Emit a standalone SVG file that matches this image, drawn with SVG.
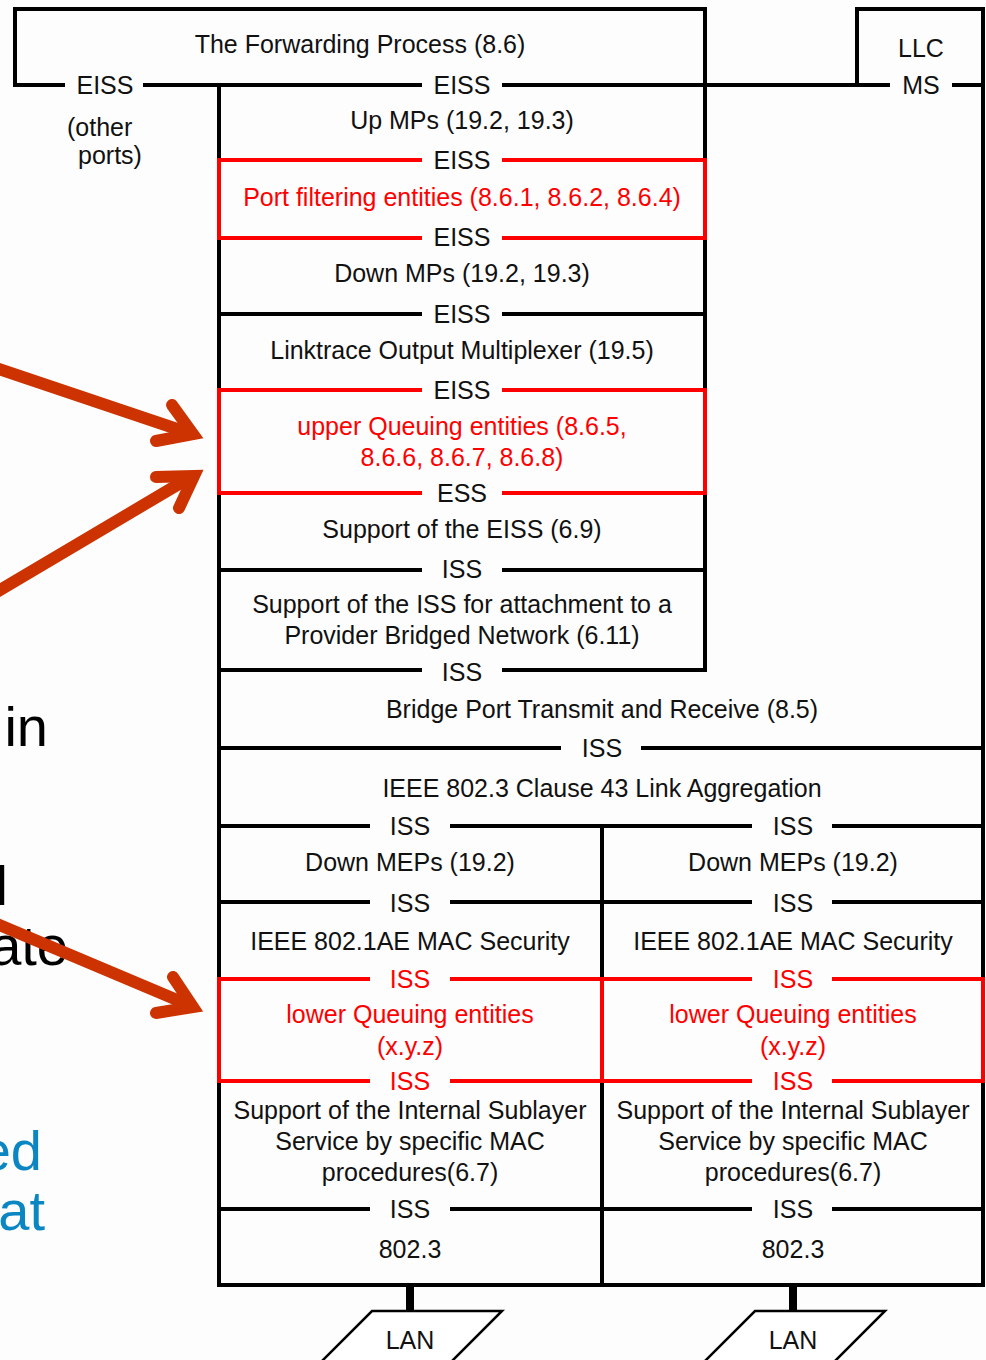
<svg xmlns="http://www.w3.org/2000/svg" width="986" height="1360" viewBox="0 0 986 1360">
<style>
.t{font-family:"Liberation Sans",Arial,sans-serif;font-size:25px;fill:#111;text-anchor:middle}
.s{text-anchor:start}
.r{fill:#ff0000}
.big{font-family:"Liberation Sans",Arial,sans-serif;font-size:56px;fill:#000;text-anchor:end}
.blue{fill:#0a86c2}
.k{fill:none;stroke:#000;stroke-width:4}
.rl{fill:none;stroke:#ff0000;stroke-width:4}
.arr{fill:none;stroke:#cc3300;stroke-width:12;stroke-linecap:round;stroke-linejoin:miter;stroke-miterlimit:6}
.lan{fill:#fff;stroke:#000;stroke-width:2.5}
</style>
<rect width="986" height="1360" fill="#fdfdfd"/>

<g id="side-text">
<text class="big" x="48" y="746">in</text>
<text class="big" x="8" y="905">l</text>
<text class="big" x="68" y="965">ate</text>
<text class="big blue" x="42" y="1170">ed</text>
<text class="big blue" x="45" y="1230">at</text>
</g>

<g id="frame">
<path class="k" d="M15,85 V9 H705 V672 M219,83 V1287 M857,85 V9 H983 V1287"/>
<path class="k" d="M13,85 H65 M143,85 H422 M502,85 H890 M952,85 H985"/>
<path class="k" d="M219,314 H422 M502,314 H705 M219,570 H422 M502,570 H705 M219,670 H422 M502,670 H707"/>
<path class="k" d="M219,748 H561 M641,748 H985"/>
<path class="k" d="M219,826 H370 M450,826 H752 M832,826 H985 M219,902 H370 M450,902 H752 M832,902 H985 M219,1209 H370 M450,1209 H752 M832,1209 H985"/>
<path class="k" d="M217,1285 H985 M602,826 V1285"/>
</g>

<g id="red-boxes">
<path class="rl" d="M219,160 H422 M502,160 H705 M219,238 H422 M502,238 H705 M219,158 V240 M705,158 V240"/>
<path class="rl" d="M219,390 H422 M502,390 H705 M219,493 H422 M502,493 H705 M219,388 V495 M705,388 V495"/>
<path class="rl" d="M219,979 H370 M450,979 H752 M832,979 H985 M219,1081 H370 M450,1081 H752 M832,1081 H985 M219,977 V1083 M602,977 V1083 M983,977 V1083"/>
</g>

<g id="forwarding">
<text class="t" x="360" y="53">The Forwarding Process (8.6)</text>
<text class="t" x="105" y="94">EISS</text>
<text class="t s" x="67" y="136">(other</text>
<text class="t s" x="78" y="164">ports)</text>
</g>
<g id="llc">
<text class="t" x="921" y="57">LLC</text>
<text class="t" x="921" y="94">MS</text>
</g>
<g id="up-mps">
<text class="t" x="462" y="94">EISS</text>
<text class="t" x="462" y="129">Up MPs (19.2, 19.3)</text>
<text class="t" x="462" y="169">EISS</text>
</g>
<g id="port-filtering">
<text class="t r" x="462" y="206">Port filtering entities (8.6.1, 8.6.2, 8.6.4)</text>
<text class="t" x="462" y="246">EISS</text>
</g>
<g id="down-mps">
<text class="t" x="462" y="282">Down MPs (19.2, 19.3)</text>
<text class="t" x="462" y="323">EISS</text>
</g>
<g id="linktrace">
<text class="t" x="462" y="359">Linktrace Output Multiplexer (19.5)</text>
<text class="t" x="462" y="399">EISS</text>
</g>
<g id="upper-queuing">
<text class="t r" x="462" y="435">upper Queuing entities (8.6.5,</text>
<text class="t r" x="462" y="466">8.6.6, 8.6.7, 8.6.8)</text>
<text class="t" x="462" y="502">ESS</text>
</g>
<g id="support-eiss">
<text class="t" x="462" y="538">Support of the EISS (6.9)</text>
<text class="t" x="462" y="578">ISS</text>
</g>
<g id="support-iss-pbn">
<text class="t" x="462" y="613">Support of the ISS for attachment to a</text>
<text class="t" x="462" y="644">Provider Bridged Network (6.11)</text>
<text class="t" x="462" y="681">ISS</text>
</g>
<g id="bridge-port">
<text class="t" x="602" y="718">Bridge Port Transmit and Receive (8.5)</text>
<text class="t" x="602" y="757">ISS</text>
</g>
<g id="link-aggregation">
<text class="t" x="602" y="797">IEEE 802.3 Clause 43 Link Aggregation</text>
<text class="t" x="410" y="835">ISS</text>
<text class="t" x="793" y="835">ISS</text>
</g>
<g id="down-meps-1">
<text class="t" x="410" y="871">Down MEPs (19.2)</text>
<text class="t" x="410" y="912">ISS</text>
</g>
<g id="down-meps-2">
<text class="t" x="793" y="871">Down MEPs (19.2)</text>
<text class="t" x="793" y="912">ISS</text>
</g>
<g id="macsec-1">
<text class="t" x="410" y="950">IEEE 802.1AE MAC Security</text>
<text class="t r" x="410" y="988">ISS</text>
</g>
<g id="macsec-2">
<text class="t" x="793" y="950">IEEE 802.1AE MAC Security</text>
<text class="t r" x="793" y="988">ISS</text>
</g>
<g id="lower-queuing-1">
<text class="t r" x="410" y="1023">lower Queuing entities</text>
<text class="t r" x="410" y="1055">(x.y.z)</text>
<text class="t r" x="410" y="1090">ISS</text>
</g>
<g id="lower-queuing-2">
<text class="t r" x="793" y="1023">lower Queuing entities</text>
<text class="t r" x="793" y="1055">(x.y.z)</text>
<text class="t r" x="793" y="1090">ISS</text>
</g>
<g id="support-isl-1">
<text class="t" x="410" y="1119">Support of the Internal Sublayer</text>
<text class="t" x="410" y="1150">Service by specific MAC</text>
<text class="t" x="410" y="1181">procedures(6.7)</text>
<text class="t" x="410" y="1218">ISS</text>
</g>
<g id="support-isl-2">
<text class="t" x="793" y="1119">Support of the Internal Sublayer</text>
<text class="t" x="793" y="1150">Service by specific MAC</text>
<text class="t" x="793" y="1181">procedures(6.7)</text>
<text class="t" x="793" y="1218">ISS</text>
</g>
<g id="phy-1"><text class="t" x="410" y="1258">802.3</text></g>
<g id="phy-2"><text class="t" x="793" y="1258">802.3</text></g>

<g id="lan-1">
<path class="lan" d="M372,1311 H502 L442,1371 H312 Z"/>
<text class="t" x="410" y="1349">LAN</text>
</g>
<g id="lan-2">
<path class="lan" d="M755,1311 H885 L825,1371 H695 Z"/>
<text class="t" x="793" y="1349">LAN</text>
</g>

<g id="connectors">
<path d="M410,1285 V1312 M793,1285 V1312" stroke="#000" stroke-width="8" fill="none"/>
<path class="arr" d="M-10,366 L189,433"/>
<path class="arr" d="M172,405 L193,434 L156,441"/>
<path class="arr" d="M-10,596 L189,478"/>
<path class="arr" d="M156,477 L194,476 L179,508"/>
<path class="arr" d="M-10,921 L189,1005"/>
<path class="arr" d="M173,977 L193,1007 L156,1013"/>
</g>
</svg>
